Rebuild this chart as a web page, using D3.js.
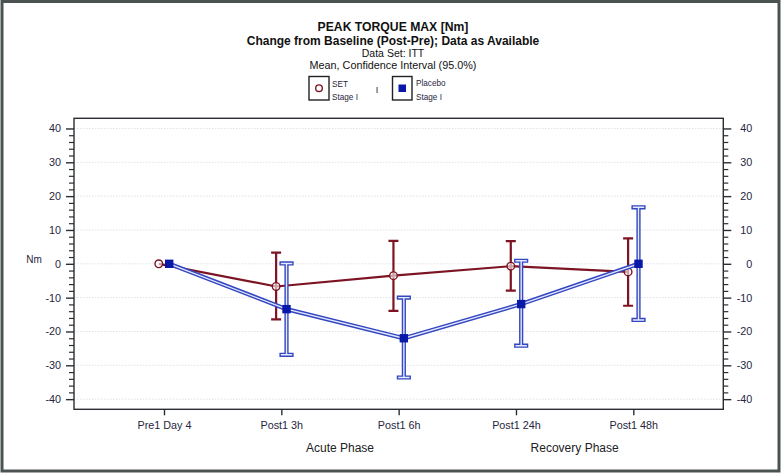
<!DOCTYPE html>
<html>
<head>
<meta charset="utf-8">
<script src="https://cdn.jsdelivr.net/npm/d3@7"></script>
<style>
  html, body { margin: 0; padding: 0; background: #fff; }
  svg { display: block; font-family: "Liberation Sans", Arial, sans-serif; }
</style>
</head>
<body>
<svg id="chart" width="784" height="475"></svg>
<script>
// ---- data ----
const categories = ["Pre1 Day 4", "Post1 3h", "Post1 6h", "Post1 24h", "Post1 48h"];
const setMean  = [0, -6.7, -3.5, -0.7, -2.4];
const setLow   = [0, -16.4, -13.9, -7.9, -12.4];
const setHigh  = [0, 3.3, 6.8, 6.7, 7.5];
const plMean   = [0, -13.4, -22.0, -11.9, 0.0];
const plLow    = [0, -26.9, -33.6, -24.2, -16.6];
const plHigh   = [0, 0.1, -10.0, 0.9, 16.7];
const yTicks   = [40, 30, 20, 10, 0, -10, -20, -30, -40];
const phases   = [
  { label: "Acute Phase", from: "Post1 3h", to: "Post1 6h" },
  { label: "Recovery Phase", from: "Post1 24h", to: "Post1 48h" }
];
const titles = [
  "PEAK TORQUE MAX [Nm]",
  "Change from Baseline (Post-Pre); Data as Available",
  "Data Set: ITT",
  "Mean, Confidence Interval (95.0%)"
];

const svg = d3.select("#chart");
const L = 74, R = 723.3, T = 118.3, B = 409.3;
const textCol = "#1f2640";
const redCol = "#7d1424";
const blueCol = "#3347c0";
const blueFill = "#0a18a8";
const fmt = d => String(d);

const x = d3.scalePoint().domain(categories).range([L, R]).padding(0.767);
const y = d3.scaleLinear().domain([-43, 43]).range([B, T]);

// outer frame
svg.append("rect").attr("x", 2).attr("y", 1.5).attr("width", 777).attr("height", 469.5)
  .attr("fill", "none").attr("stroke", "#4b5252").attr("stroke-width", 3);

// titles
const tSizes = [12.2, 12, 10.5, 10.8];
const tWeights = ["bold", "bold", "normal", "normal"];
const tBase = [30.6, 45.4, 57, 68.6];
titles.forEach((t, i) => {
  svg.append("text").attr("x", 393).attr("y", tBase[i]).attr("text-anchor", "middle")
    .attr("font-size", tSizes[i]).attr("font-weight", tWeights[i]).attr("fill", "#111")
    .text(t);
});

// grid lines
svg.append("g").selectAll("line").data(yTicks).join("line")
  .attr("x1", L).attr("x2", R).attr("y1", d => y(d)).attr("y2", d => y(d))
  .attr("stroke", "#dde3ea").attr("stroke-width", 1).attr("stroke-dasharray", "1.5,1.5");

// plot frame
svg.append("rect").attr("x", L).attr("y", T).attr("width", R - L).attr("height", B - T)
  .attr("fill", "none").attr("stroke", "#2a2e33").attr("stroke-width", 1.4);

// y axes
const minorTicks = d3.range(-40, 41, 2).filter(v => v % 10 !== 0);
function styleAxis(g) {
  g.select(".domain").remove();
  g.selectAll(".tick line").attr("stroke", "#2a2e33").attr("stroke-width", 1.4);
  g.selectAll(".tick text").attr("fill", textCol).attr("font-size", 10.8)
    .attr("font-family", "'Liberation Sans', Arial, sans-serif");
}
const yLeft = svg.append("g").attr("transform", `translate(${L},0)`)
  .call(d3.axisLeft(y).tickValues(yTicks).tickFormat(fmt).tickSize(8).tickPadding(5));
styleAxis(yLeft);
const yRight = svg.append("g").attr("transform", `translate(${R},0)`)
  .call(d3.axisRight(y).tickValues(yTicks).tickFormat(fmt).tickSize(8).tickPadding(5));
styleAxis(yRight);
yRight.selectAll(".tick text").attr("text-anchor", "end").attr("x", 29);
svg.append("g").attr("transform", `translate(${L},0)`)
  .call(d3.axisLeft(y).tickValues(minorTicks).tickSize(5).tickFormat(""))
  .call(g => { g.select(".domain").remove(); g.selectAll("line").attr("stroke", "#2a2e33").attr("stroke-width", 1.2); });
svg.append("g").attr("transform", `translate(${R},0)`)
  .call(d3.axisRight(y).tickValues(minorTicks).tickSize(5).tickFormat(""))
  .call(g => { g.select(".domain").remove(); g.selectAll("line").attr("stroke", "#2a2e33").attr("stroke-width", 1.2); });

// y label
svg.append("text").attr("x", 34).attr("y", 263).attr("text-anchor", "middle")
  .attr("font-size", 10).attr("fill", textCol).text("Nm");

// x axis
const xAxis = svg.append("g").attr("transform", `translate(0,${B})`)
  .call(d3.axisBottom(x).tickSize(6).tickPadding(6));
xAxis.select(".domain").remove();
xAxis.selectAll(".tick line").attr("stroke", "#2a2e33").attr("stroke-width", 1.4);
xAxis.selectAll(".tick text").attr("fill", textCol).attr("font-size", 10.8)
  .attr("font-family", "'Liberation Sans', Arial, sans-serif");

// phase labels
svg.append("g").selectAll("text").data(phases).join("text")
  .attr("x", d => (x(d.from) + x(d.to)) / 2).attr("y", 452)
  .attr("text-anchor", "middle").attr("font-size", 12).attr("fill", "#222")
  .text(d => d.label);

// legend
const lg = svg.append("g");
lg.append("rect").attr("x", 309).attr("y", 76.5).attr("width", 20).attr("height", 23.5)
  .attr("fill", "#fff").attr("stroke", "#222").attr("stroke-width", 1.4);
lg.append("circle").attr("cx", 319).attr("cy", 88.2).attr("r", 3.3)
  .attr("fill", "#fff").attr("stroke", redCol).attr("stroke-width", 1.4);
lg.append("text").attr("x", 332).attr("y", 87.3).attr("font-size", 8.2).attr("fill", textCol).text("SET");
lg.append("text").attr("x", 332).attr("y", 100).attr("font-size", 8.2).attr("fill", textCol).text("Stage I");
lg.append("text").attr("x", 377).attr("y", 93).attr("text-anchor", "middle").attr("font-size", 9).attr("fill", "#222").text("I");
lg.append("rect").attr("x", 392.5).attr("y", 76.5).attr("width", 19.5).attr("height", 23.5)
  .attr("fill", "#fff").attr("stroke", "#222").attr("stroke-width", 1.4);
lg.append("rect").attr("x", 398.5).attr("y", 84.5).attr("width", 7.5).attr("height", 7.5).attr("fill", blueFill);
lg.append("text").attr("x", 416).attr("y", 86).attr("font-size", 8.2).attr("fill", textCol).text("Placebo");
lg.append("text").attr("x", 416).attr("y", 100).attr("font-size", 8.2).attr("fill", textCol).text("Stage I");

// series
const setData = categories.map((c, i) => ({ c, m: setMean[i], lo: setLow[i], hi: setHigh[i] }));
const plData  = categories.map((c, i) => ({ c, m: plMean[i], lo: plLow[i], hi: plHigh[i] }));
const dx = 5.2;
const capW = 5;

function ebPath(d, off) {
  const cx = x(d.c) + off;
  return `M${cx - capW},${y(d.hi)}H${cx + capW}M${cx},${y(d.hi)}V${y(d.lo)}M${cx - capW},${y(d.lo)}H${cx + capW}`;
}

// SET error bars + line
const withCI = d => d.hi !== d.lo;
svg.append("g").selectAll("path").data(setData.filter(withCI)).join("path")
  .attr("d", d => ebPath(d, -dx)).attr("fill", "none").attr("stroke", redCol).attr("stroke-width", 2.2);
const setLine = d3.line().x(d => x(d.c) - dx).y(d => y(d.m));
svg.append("path").datum(setData).attr("d", setLine).attr("fill", "none")
  .attr("stroke", redCol).attr("stroke-width", 2.2);
svg.append("g").selectAll("circle").data(setData).join("circle")
  .attr("cx", d => x(d.c) - dx).attr("cy", d => y(d.m)).attr("r", 3.8)
  .attr("fill", "#fff").attr("fill-opacity", 0.6).attr("stroke", redCol).attr("stroke-width", 1.4);

// Placebo error bars (double lines)
const plEb = svg.append("g");
[[4.2, blueCol], [1.4, "#e6e9ff"]].forEach(([w, col]) => {
  plEb.append("g").selectAll("path").data(plData.filter(withCI)).join("path")
    .attr("d", d => ebPath(d, dx)).attr("fill", "none").attr("stroke", col).attr("stroke-width", w)
    .attr("stroke-linecap", "square");
});
const plLine = d3.line().x(d => x(d.c) + dx).y(d => y(d.m));
svg.append("path").datum(plData).attr("d", plLine).attr("fill", "none")
  .attr("stroke", blueCol).attr("stroke-width", 4.2);
svg.append("path").datum(plData).attr("d", plLine).attr("fill", "none")
  .attr("stroke", "#e6e9ff").attr("stroke-width", 1.3);
svg.append("g").selectAll("rect").data(plData).join("rect")
  .attr("x", d => x(d.c) + dx - 4.2).attr("y", d => y(d.m) - 4.2)
  .attr("width", 8.4).attr("height", 8.4).attr("fill", blueFill);
</script>
</body>
</html>
